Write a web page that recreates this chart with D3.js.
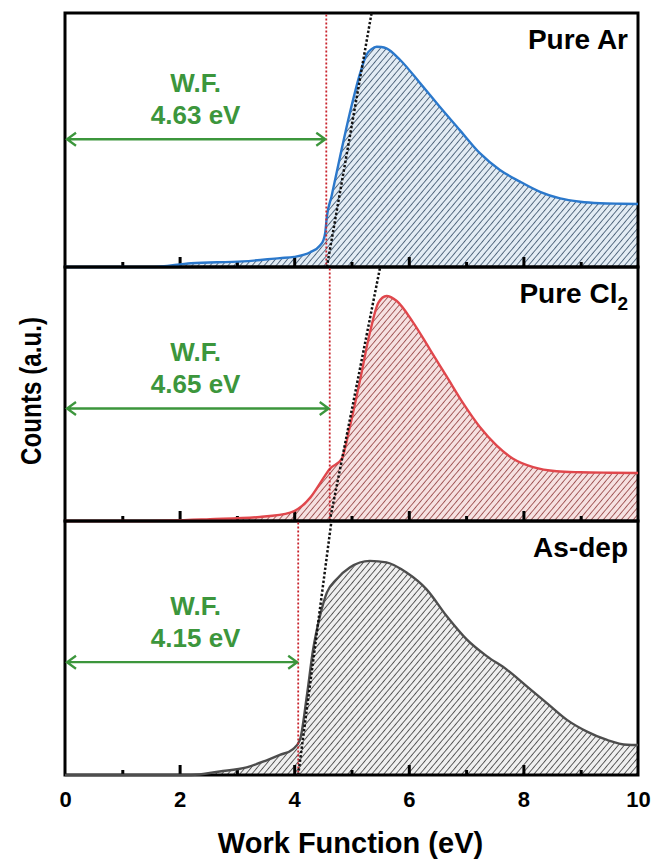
<!DOCTYPE html>
<html lang="en">

<head>
    <meta charset="UTF-8">
    <title>Work Function</title>
    <script src="https://d3js.org/d3.v7.min.js"></script>
    <style>
        body { margin: 0; background: #fff; }
        text { font-family: "Liberation Sans", Arial, sans-serif; font-weight: bold; }
    </style>
</head>

<body>
    <svg width="652" height="859"></svg>

    <script>
        // sample names
        const samples = ["Pure Ar", "Pure Cl", "As-dep"];
        const subscripts = ["", "2", ""];
        const wfLabels = ["4.63 eV", "4.65 eV", "4.15 eV"];

        // spectra (normalized counts)
        const arX = [0, 1.5, 2.2, 3.1, 3.75, 4.0, 4.28, 4.45, 4.51, 4.54, 4.57, 4.65, 4.8, 4.97, 5.15, 5.26, 5.35, 5.44, 5.52, 5.61, 5.85, 6.2, 6.54, 6.89, 7.24, 7.59, 7.94, 8.29, 8.64, 8.99, 9.34, 9.7, 10];
        const arY = [0, 0, 0.015, 0.022, 0.035, 0.04, 0.058, 0.085, 0.106, 0.133, 0.198, 0.277, 0.434, 0.605, 0.762, 0.835, 0.858, 0.867, 0.866, 0.861, 0.815, 0.723, 0.631, 0.539, 0.448, 0.382, 0.336, 0.296, 0.27, 0.257, 0.251, 0.249, 0.248];

        const clX = [0, 1.4, 2.53, 3.4, 3.93, 4.28, 4.45, 4.62, 4.83, 4.97, 5.15, 5.32, 5.47, 5.61, 5.79, 6.08, 6.37, 6.66, 6.95, 7.24, 7.53, 7.82, 8.17, 8.58, 8.99, 9.5, 10];
        const clY = [0, 0, 0.007, 0.016, 0.033, 0.092, 0.148, 0.205, 0.245, 0.37, 0.556, 0.741, 0.86, 0.886, 0.866, 0.78, 0.675, 0.569, 0.463, 0.37, 0.298, 0.245, 0.212, 0.196, 0.192, 0.19, 0.189];

        const depX = [0, 2.2, 2.7, 3.17, 3.52, 3.75, 3.98, 4.1, 4.22, 4.33, 4.45, 4.57, 4.74, 4.97, 5.32, 5.61, 5.96, 6.31, 6.66, 7.01, 7.36, 7.71, 8.06, 8.41, 8.76, 9.11, 9.46, 9.81, 10];
        const depY = [0, 0, 0.014, 0.03, 0.058, 0.079, 0.102, 0.138, 0.31, 0.494, 0.626, 0.718, 0.771, 0.817, 0.843, 0.837, 0.797, 0.731, 0.626, 0.534, 0.468, 0.415, 0.349, 0.283, 0.217, 0.171, 0.138, 0.119, 0.118];

        // work function markers: red line position, tangent foot/top, arrow height
        const wfLine = [4.56, 4.62, 4.07];
        const tangentBottom = [4.57, 4.62, 4.07];
        const tangentTop = [5.35, 5.50, 4.65];
        const arrowLevel = [0.503, 0.443, 0.444];

        const majorTicks = [0, 2, 4, 6, 8, 10];
        const minorTicks = [1, 3, 5, 7, 9];

        const seriesX = [arX, clX, depX];
        const seriesY = [arY, clY, depY];
        const lineColors = ["#2b78cb", "#e0474c", "#4d4d4d"];
        const hatchColors = ["#2c4560", "#8c3434", "#2e2e2e"];
        const hatchBg = ["#e3ecf4", "#f6e1e1", "#efefef"];
        const green = "#3c963c";

        const left = 65, right = 638, top0 = 13, panelH = 254;

        const svg = d3.select("svg");
        const defs = svg.append("defs");

        const x = d3.scaleLinear().domain([0, 10]).range([left, right]);

        samples.forEach((name, i) => {
            const top = top0 + i * panelH;
            const bottom = top + panelH;
            const y = d3.scaleLinear().domain([0, 1]).range([bottom, top]);

            const pat = defs.append("pattern")
                .attr("id", "hatch" + i)
                .attr("patternUnits", "userSpaceOnUse")
                .attr("width", 4.6).attr("height", 4.6)
                .attr("patternTransform", "rotate(40)");
            pat.append("rect").attr("width", 4.6).attr("height", 4.6).attr("fill", hatchBg[i]);
            pat.append("line").attr("x1", 0).attr("y1", 0).attr("x2", 0).attr("y2", 4.6)
                .attr("stroke", hatchColors[i]).attr("stroke-width", 1.5);

            defs.append("clipPath").attr("id", "clip" + i)
                .append("rect").attr("x", left).attr("y", top)
                .attr("width", right - left).attr("height", panelH);

            const pts = seriesX[i].map((v, k) => [v, seriesY[i][k]]);
            const g = svg.append("g");

            g.append("path")
                .datum(pts)
                .attr("fill", `url(#hatch${i})`)
                .attr("d", d3.area().x(d => x(d[0])).y0(bottom).y1(d => y(d[1])).curve(d3.curveMonotoneX));

            // inward ticks
            g.append("g")
                .attr("transform", `translate(0,${bottom})`)
                .call(d3.axisTop(x).tickValues(majorTicks.slice(1, -1)).tickSize(10).tickFormat(""))
                .call(a => a.select(".domain").remove())
                .selectAll("line").attr("stroke-width", 3);
            g.append("g")
                .attr("transform", `translate(0,${bottom})`)
                .call(d3.axisTop(x).tickValues(minorTicks).tickSize(5).tickFormat(""))
                .call(a => a.select(".domain").remove())
                .selectAll("line").attr("stroke-width", 3);

            g.append("rect")
                .attr("x", left).attr("y", top)
                .attr("width", right - left).attr("height", panelH)
                .attr("fill", "none").attr("stroke", "#000").attr("stroke-width", 3);

            g.append("path")
                .datum(pts)
                .attr("fill", "none")
                .attr("stroke", lineColors[i])
                .attr("stroke-width", 2.4)
                .attr("d", d3.line().x(d => x(d[0])).y(d => y(d[1])).curve(d3.curveMonotoneX));

            // red work function line
            g.append("line")
                .attr("x1", x(wfLine[i])).attr("x2", x(wfLine[i]))
                .attr("y1", top + 1.5).attr("y2", bottom)
                .attr("stroke", "#c8232c").attr("stroke-width", 1.8)
                .attr("stroke-dasharray", "2,2");

            // tangent
            g.append("line")
                .attr("clip-path", `url(#clip${i})`)
                .attr("x1", x(tangentBottom[i])).attr("y1", y(0))
                .attr("x2", x(tangentTop[i])).attr("y2", y(1))
                .attr("stroke", "#111").attr("stroke-width", 2.5)
                .attr("stroke-dasharray", "2.4,2");

            // arrow
            const ay = y(arrowLevel[i]);
            const x0 = x(0) + 2, x1 = x(wfLine[i]) - 1;
            g.append("path")
                .attr("fill", "none").attr("stroke", green).attr("stroke-width", 2.3)
                .attr("d", `M${x0},${ay}H${x1}M${x0 + 9},${ay - 6.5}L${x0},${ay}L${x0 + 9},${ay + 6.5}` +
                    `M${x1 - 9},${ay - 6.5}L${x1},${ay}L${x1 - 9},${ay + 6.5}`);

            g.append("text")
                .attr("x", x(2.28)).attr("y", ay - 47.5)
                .attr("text-anchor", "middle").attr("fill", green)
                .style("font-size", "26px").text("W.F.");
            g.append("text")
                .attr("x", x(2.28)).attr("y", ay - 15)
                .attr("text-anchor", "middle").attr("fill", green)
                .style("font-size", "26px").text(wfLabels[i]);

            const lab = g.append("text")
                .attr("x", right - 10).attr("y", top + 36)
                .attr("text-anchor", "end")
                .style("font-size", "28px")
                .text(name);
            if (subscripts[i]) {
                lab.append("tspan").attr("dy", 7).style("font-size", "19px").text(subscripts[i]);
            }

            if (i === samples.length - 1) {
                svg.append("g")
                    .attr("transform", `translate(0,${bottom})`)
                    .call(d3.axisBottom(x).tickValues(majorTicks).tickSize(0).tickPadding(16))
                    .call(a => a.select(".domain").remove())
                    .selectAll("text")
                    .style("font-size", "22px")
                    .style("font-weight", "bold")
                    .style("font-family", "'Liberation Sans', Arial, sans-serif")
                    .attr("fill", "#000");
            }
        });

        svg.append("text")
            .attr("x", (left + right) / 2 - 1).attr("y", 853)
            .attr("text-anchor", "middle")
            .style("font-size", "29px")
            .text("Work Function (eV)");

        svg.append("text")
            .attr("transform", "translate(41,391) rotate(-90)")
            .attr("text-anchor", "middle")
            .style("font-size", "29px")
            .attr("textLength", 148)
            .attr("lengthAdjust", "spacingAndGlyphs")
            .text("Counts (a.u.)");
    </script>

</body>

</html>
